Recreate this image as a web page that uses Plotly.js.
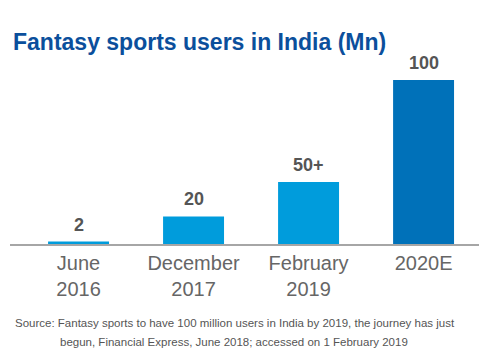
<!DOCTYPE html>
<html>
<head>
<meta charset="utf-8">
<script src="https://cdn.plot.ly/plotly-3.0.1.min.js"></script>
<style>html,body{margin:0;padding:0;background:#fff;}#chart{width:488px;height:351px;}</style>
</head>
<body>
<div id="chart"></div>
<script>
var categories = ["June<br>2016", "December<br>2017", "February<br>2019", "2020E"];
// bar heights as drawn in the picture (the graphic is not to scale)
var barHeights = [1.5, 16.8, 37.8, 100];
var valueLabels = ["2", "20", "50+", "100"];
var barColors = ["#009cdc", "#009cdc", "#009cdc", "#0071b9"];
var titleText = "Fantasy sports users in India (Mn)";
var sourceLines = [
  "Source: Fantasy sports to have 100 million users in India by 2019, the journey has just",
  "begun, Financial Express, June 2018; accessed on 1 February 2019"
];

var xIdx = categories.map(function(c, i){ return i; });

var trace = {
  type: "bar",
  x: xIdx,
  y: barHeights,
  width: 0.53,
  marker: {color: barColors},
  hoverinfo: "skip"
};

var annotations = valueLabels.map(function(t, i){
  return {
    x: xIdx[i], y: barHeights[i], xref: "x", yref: "y",
    text: "<b>" + t + "</b>", showarrow: false,
    yanchor: "middle", yshift: 17,
    font: {family: "Liberation Sans, Arial, sans-serif", size: 18, color: "#555555"}
  };
});
annotations.push({
  xref: "paper", yref: "paper", x: 0, y: 0, xanchor: "left", yanchor: "middle",
  xshift: 3, yshift: -79, showarrow: false, text: sourceLines[0],
  font: {family: "Liberation Sans, Arial, sans-serif", size: 11.5, color: "#555555"}
});
annotations.push({
  xref: "paper", yref: "paper", x: 0, y: 0, xanchor: "left", yanchor: "middle",
  xshift: 48, yshift: -98, showarrow: false, text: sourceLines[1],
  font: {family: "Liberation Sans, Arial, sans-serif", size: 11.5, color: "#555555"}
});

var layout = {
  width: 488, height: 351,
  margin: {l: 10, r: 9, t: 80, b: 107},
  paper_bgcolor: "#ffffff", plot_bgcolor: "#ffffff",
  showlegend: false,
  title: {
    text: "<b>" + titleText + "</b>",
    xref: "container", yref: "container",
    x: 13/488, xanchor: "left",
    y: 1 - 42/351, yanchor: "middle",
    font: {family: "Liberation Sans, Arial, sans-serif", size: 23, color: "#0b4f9c"}
  },
  xaxis: {
    range: [-0.596, 3.482],
    tickmode: "array", tickvals: xIdx, ticktext: categories,
    showgrid: false, zeroline: false,
    showline: true, linecolor: "#a6a6a6", linewidth: 1.5,
    ticks: "",
    tickfont: {family: "Liberation Sans, Arial, sans-serif", size: 20, color: "#666666"},
    fixedrange: true
  },
  yaxis: {
    range: [0, 100],
    visible: false, showgrid: false, zeroline: false,
    fixedrange: true
  },
  annotations: annotations
};

Plotly.newPlot("chart", [trace], layout, {displayModeBar: false, staticPlot: true});
</script>
</body>
</html>
